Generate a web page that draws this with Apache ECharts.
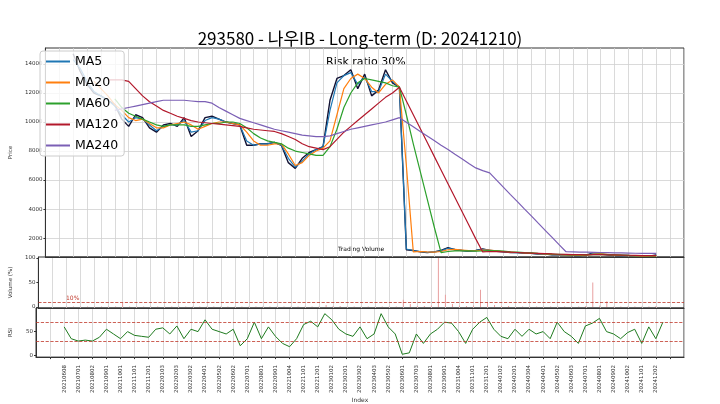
<!DOCTYPE html>
<html>
<head>
<meta charset="utf-8">
<script src="https://cdn.jsdelivr.net/npm/echarts@6/dist/echarts.min.js"></script>
<style>html,body{margin:0;padding:0;background:#fff}#chart{width:720px;height:404px}</style>
</head>
<body>
<div id="chart"></div>
<script>
// month tick labels, one every 2 half-month points
var monthLabels = ['20210608','20210701','20210802','20210901','20211001','20211101','20211201','20220103','20220203','20220302','20220401','20220502','20220602','20220701','20220801','20220901','20221004','20221101','20221201','20230102','20230201','20230302','20230403','20230502','20230601','20230703','20230801','20230901','20231004','20231101','20231201','20240102','20240201','20240304','20240401','20240502','20240603','20240701','20240801','20240902','20241002','20241101','20241202'];

var closePrice = [14700,13500,12600,12000,11800,11500,11200,10200,9700,10500,10300,9600,9300,9800,9900,9700,10300,9000,9400,10300,10400,10200,10000,9900,9800,8400,8400,8500,8500,8600,8400,7200,6800,7500,7900,8100,8300,11500,13000,13200,13600,12300,13300,11800,12200,13600,12700,12400,
  1200,1150,1050,1000,1050,1150,1350,1200,1150,1100,1150,1250,1150,1100,1050,1000,1000,950,950,900,900,850,850,850,800,800,850,1000,900,850,800,800,800,750,750,750,850];
var ma5 = [14300,13700,12800,12100,11800,11500,11100,10500,10000,10300,10200,9800,9400,9700,9800,9800,10100,9300,9400,10100,10300,10200,10000,9900,9800,8700,8400,8500,8500,8600,8400,7500,6900,7300,7800,8100,8300,10800,12700,13200,13400,12600,13100,12100,12100,13300,12800,12400,
  1250,1150,1080,1020,1050,1120,1300,1220,1160,1110,1140,1220,1170,1110,1060,1010,1000,960,950,910,900,860,850,850,810,800,840,960,910,860,810,800,800,760,750,750,820];
var ma20 = [null,null,null,12800,12300,11800,11200,10800,10300,10100,10200,9900,9600,9600,9800,9900,10000,9800,9500,9700,9900,10000,10000,9900,9800,9300,8700,8400,8400,8500,8500,7800,7000,7200,7700,8000,8200,8700,10500,12300,13000,13300,13000,12400,12000,12600,12900,12400,
  7000,1050,1080,1050,1040,1080,1200,1220,1180,1140,1130,1180,1180,1130,1080,1040,1010,980,960,930,910,880,860,850,830,810,830,900,920,880,830,810,800,780,760,750,780];
var ma60 = [null,null,null,null,null,null,11600,11000,10600,10400,10200,10000,9800,9700,9800,9800,9800,9700,9700,9800,9900,9900,10000,10000,9900,9600,9200,8900,8700,8600,8500,8200,8000,7900,7800,7700,7700,8300,9500,11000,12000,12700,13000,12900,12800,12700,12500,12400,
  10500,8500,6600,4700,2800,1000,1080,1120,1130,1120,1110,1120,1140,1130,1100,1060,1030,1000,980,950,930,900,880,860,850,840,840,860,880,870,850,830,810,800,790,770,770];
var ma120 = [null,null,null,null,null,12900,12900,12900,12800,12300,11800,11400,11100,10800,10600,10400,10250,10100,10000,9950,9900,9850,9800,9750,9700,9600,9500,9450,9400,9350,9200,9000,8800,8500,8300,8200,8100,8300,8800,9300,9700,10100,10500,10900,11300,11700,12000,12400,
  11450,10500,9550,8600,7650,6700,5750,4800,3850,2900,1950,1050,1080,1070,1050,1030,1010,990,970,950,930,910,890,880,870,860,850,860,860,850,840,830,820,810,800,790,790];
var ma240 = [null,null,null,null,null,null,10800,10900,11000,11100,11200,11300,11400,11500,11500,11500,11500,11450,11400,11400,11300,11000,10750,10500,10250,10100,9950,9800,9650,9500,9400,9300,9200,9100,9050,9000,9000,9050,9200,9350,9500,9600,9700,9800,9900,10000,10150,10300,
  9980,9670,9350,9040,8720,8400,8100,7780,7470,7150,6840,6650,6500,6000,5500,5000,4520,4020,3530,3030,2540,2050,1550,1060,1050,1040,1030,1020,1010,1000,990,980,970,960,950,950,950];
var volumePct = [1,1,1,1,1,1,1,1,8,1,1,1,1,1,1,1,1,1,1,1,1,1,1,1,1,1,1,1,1,1,1,1,1,1,1,1,1,4,2,2,1,1,1,1,1,1,1,1,
  15,6,2,2,3,100,25,6,3,2,3,35,8,4,2,2,1,1,1,1,1,1,1,1,1,1,2,50,3,12,1,1,1,1,1,1,2];
var rsi = [60,35,30,32,30,38,55,45,35,50,42,40,38,55,58,45,62,35,55,50,75,55,50,45,55,20,35,70,35,60,40,25,18,35,65,72,60,88,75,55,45,40,60,
  35,45,88,60,45,2,5,45,25,45,55,70,68,50,25,55,70,80,55,40,35,55,40,55,45,50,35,70,50,40,25,62,68,78,50,45,35,48,55,25,60,35,70];
var priceTicks = [2000, 4000, 6000, 8000, 10000, 12000, 14000];
var volTicks = [0, 50, 100];
var rsiTicks = [0, 50];

function pairs(arr) {
    var out = [];
    for (var i = 0; i < arr.length; i++) out.push([i, arr[i]]);
    return out;
}

var chart = echarts.init(document.getElementById('chart'));
var font = 'DejaVu Sans';
var gridLine = { show: true, lineStyle: { color: '#d0d0d0', width: 0.8 } };
function xAxisFor(gi, labels) {
    return {
        type: 'value', min: -4, max: 88, interval: 2, gridIndex: gi,
        axisLine: { onZero: false, lineStyle: { color: '#333' } },
        axisLabel: labels ? {
            show: true, rotate: 90, fontSize: 5.5, color: '#333', fontFamily: font, showMinLabel: false, showMaxLabel: false,
            formatter: function (v) { return v >= 0 ? (monthLabels[Math.round(v / 2)] || '') : ''; }
        } : { show: false },
        axisTick: { show: labels, length: 2 },
        splitLine: gridLine,
        name: labels ? 'Index' : '', nameLocation: 'middle', nameGap: 36,
        nameTextStyle: { fontSize: 6, fontFamily: font, color: '#333' }
    };
}
function yAxisFor(gi, min, max, ticks, name, split) {
    return {
        gridIndex: gi, type: 'value', min: min, max: max, name: name, nameLocation: 'middle', nameGap: gi === 0 ? 26 : 22,
        nameTextStyle: { fontSize: 5.5, fontFamily: font, color: '#333' },
        axisLine: { show: true, onZero: false, lineStyle: { color: '#333' } },
        axisTick: { show: true, customValues: ticks, length: 2 },
        axisLabel: { customValues: ticks, fontSize: 5.5, margin: 3, color: '#333', fontFamily: font, hideOverlap: false,
                     formatter: function (v) { return '' + v; } },
        splitLine: split ? gridLine : { show: false }
    };
}
var lineS = function (name, data, color, w) {
    return { name: name, type: 'line', data: pairs(data), xAxisIndex: 0, yAxisIndex: 0, showSymbol: false,
             lineStyle: { color: color, width: w }, itemStyle: { color: color }, z: 3 };
};

chart.setOption({
    animation: false,
    title: { text: '293580 - 나우IB - Long-term (D: 20241210)', left: 'center', top: 25,
             textStyle: { fontSize: 17, fontWeight: 'normal', color: '#000', fontFamily: 'Noto Sans CJK KR' } },
    legend: {
        data: ['MA5', 'MA20', 'MA60', 'MA120', 'MA240'], orient: 'vertical', left: 40, top: 51,
        itemWidth: 24, itemHeight: 2, itemGap: 8, icon: 'rect',
        backgroundColor: 'rgba(255,255,255,0.8)', borderColor: '#ccc', borderWidth: 1, borderRadius: 3, padding: [4, 6],
        textStyle: { fontSize: 12.5, fontFamily: font, color: '#000' }
    },
    grid: [
        { left: 36, right: 36, top: 48, height: 209, show: true, borderColor: '#333', borderWidth: 1 },
        { left: 36, right: 36, top: 257, height: 51, show: true, borderColor: '#333', borderWidth: 1 },
        { left: 36, right: 36, top: 308, height: 51, show: true, borderColor: '#333', borderWidth: 1 }
    ],
    xAxis: [xAxisFor(0, false), xAxisFor(1, false), xAxisFor(2, true)],
    yAxis: [
        yAxisFor(0, 700, 15100, priceTicks, 'Price', true),
        yAxisFor(1, -2, 102, volTicks, 'Volume (%)', false),
        yAxisFor(2, -4, 100, rsiTicks, 'RSI', false)
    ],
    series: [
        { name: 'Close', type: 'line', data: pairs(closePrice), showSymbol: false, lineStyle: { color: '#111133', width: 1.4 }, z: 2 },
        lineS('MA5', ma5, '#1f77b4', 1.2),
        lineS('MA20', ma20, '#ff7f0e', 1.2),
        lineS('MA60', ma60, '#2ca02c', 1.2),
        lineS('MA120', ma120, '#b2182b', 1.2),
        lineS('MA240', ma240, '#7b5fb5', 1.2),
        { name: 'Volume', type: 'bar', xAxisIndex: 1, yAxisIndex: 1, data: pairs(volumePct), barWidth: 1,
          itemStyle: { color: '#e8a0a0' },
          markLine: { symbol: 'none', silent: true, label: { show: false },
                      lineStyle: { color: '#c0392b', type: 'dashed', width: 0.8 }, data: [{ yAxis: 10 }] } },
        { name: 'RSI', type: 'line', xAxisIndex: 2, yAxisIndex: 2, data: pairs(rsi), showSymbol: false,
          lineStyle: { color: '#1e7a1e', width: 1 },
          markLine: { symbol: 'none', silent: true, label: { show: false },
                      lineStyle: { color: '#c0392b', type: 'dashed', width: 0.8 }, data: [{ yAxis: 70 }, { yAxis: 30 }] } }
    ],
    graphic: [
        { type: 'text', left: 326, top: 57, style: { text: 'Risk ratio 30%', fontSize: 11, fill: '#000', fontFamily: font } },
        { type: 'text', left: 338, top: 246, style: { text: 'Trading Volume', fontSize: 6, fill: '#000', fontFamily: font } },
        { type: 'text', left: 66, top: 295, style: { text: '10%', fontSize: 6, fill: '#c0392b', fontFamily: font } }
    ]
});
</script>
</body>
</html>
